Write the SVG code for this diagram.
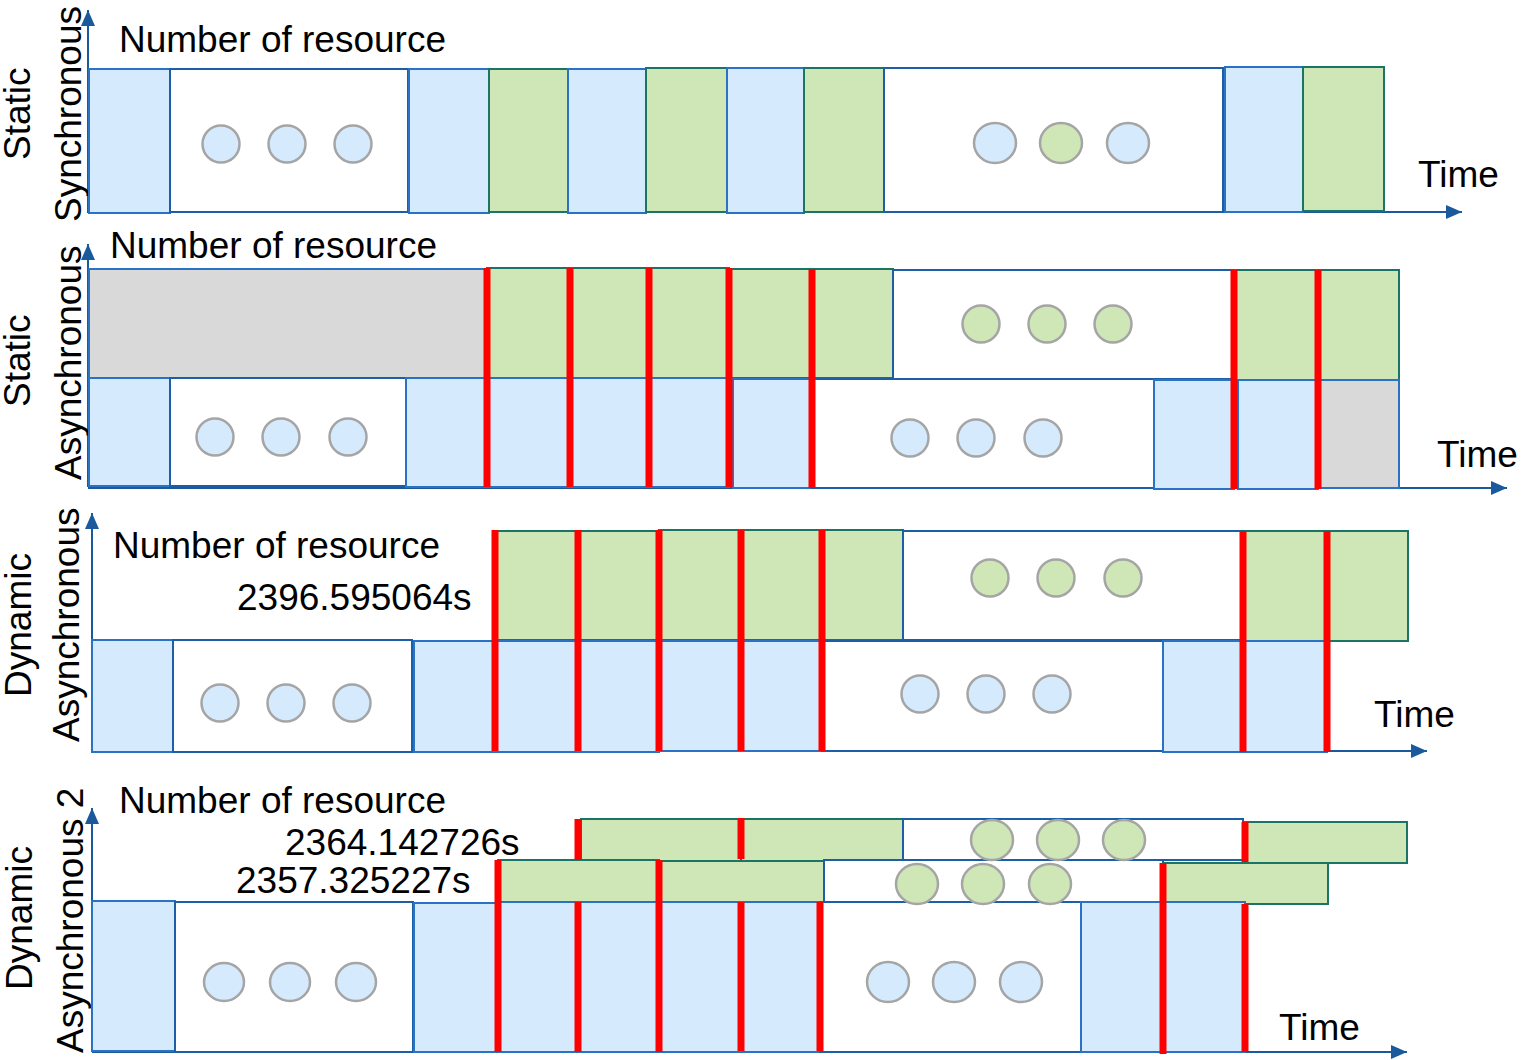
<svg xmlns="http://www.w3.org/2000/svg" width="1524" height="1060" viewBox="0 0 1524 1060">
<style>
text{font-family:"Liberation Sans",Arial,sans-serif;font-size:37px;fill:#000}
.b{fill:#d5eafc;stroke:#2a73c4;stroke-width:2}
.g{fill:#cfe7b6;stroke:#1b7565;stroke-width:2}
.w{fill:#fff;stroke:#1d5fa6;stroke-width:2}
.gr{fill:#d9d9d9;stroke:#2a73c4;stroke-width:2}
.cb{fill:#d5eafc;stroke:#a5a5a5;stroke-width:2.5}
.cg{fill:#cfe7b6;stroke:#a5a5a5;stroke-width:2.5}
.r{stroke:#ff0000;stroke-width:7}
.ax{stroke:#1a5a9c;stroke-width:2;fill:none;marker-end:url(#arr)}
</style>
<defs>
<marker id="arr" markerUnits="userSpaceOnUse" markerWidth="16" markerHeight="14" refX="16" refY="7" orient="auto">
<path d="M0,0 L16,7 L0,14 z" fill="#1a5a9c"/>
</marker>
</defs>
<rect width="1524" height="1060" fill="#fff"/>
<g id="connectors">
<line class="ax" x1="88" y1="213" x2="88" y2="10"/>
<line class="ax" x1="88" y1="212" x2="1462" y2="212"/>
<line class="ax" x1="88" y1="487" x2="88" y2="244"/>
<line class="ax" x1="88" y1="488" x2="1507" y2="488"/>
<line class="ax" x1="92" y1="752" x2="92" y2="513"/>
<line class="ax" x1="92" y1="751" x2="1427" y2="751"/>
<line class="ax" x1="92" y1="1052" x2="92" y2="808"/>
<line class="ax" x1="92" y1="1052" x2="1407" y2="1052"/>
</g>
<g id="panel1">
<text transform="translate(30,160) rotate(-90)">Static</text>
<text transform="translate(81,222) rotate(-90)">Synchronous</text>
<text x="119" y="52">Number of resource</text>
<text x="1418" y="187">Time</text>
<g id="p1-blocks">
<rect class="b" x="89" y="69" width="81" height="144"/>
<rect class="w" x="170" y="69" width="238" height="143"/>
<rect class="b" x="409" y="69" width="80" height="144"/>
<rect class="g" x="489" y="69" width="79" height="143"/>
<rect class="b" x="568" y="69" width="78" height="144"/>
<rect class="g" x="646" y="68" width="81" height="144"/>
<rect class="b" x="727" y="68" width="77" height="145"/>
<rect class="g" x="804" y="68" width="80" height="144"/>
<rect class="w" x="884" y="68" width="339" height="144"/>
<rect class="b" x="1225" y="67" width="78" height="145"/>
<rect class="g" x="1303" y="67" width="81" height="144"/>
</g>
<g id="p1-dots">
<circle class="cb" cx="221" cy="144" r="18.5"/>
<circle class="cb" cx="287" cy="144" r="18.5"/>
<circle class="cb" cx="353" cy="144" r="18.5"/>
<ellipse class="cb" cx="995" cy="143" rx="21" ry="20"/>
<ellipse class="cg" cx="1061" cy="143" rx="21" ry="20"/>
<ellipse class="cb" cx="1128" cy="143" rx="21" ry="20"/>
</g>
</g>
<g id="panel2">
<text transform="translate(30,407) rotate(-90)">Static</text>
<text transform="translate(81,480) rotate(-90)">Asynchronous</text>
<text x="110" y="258">Number of resource</text>
<text x="1437" y="467">Time</text>
<g id="p2-blocks">
<rect class="gr" x="89" y="269" width="398" height="109"/>
<rect class="g" x="487" y="268" width="83" height="110"/>
<rect class="g" x="570" y="268" width="79" height="110"/>
<rect class="g" x="649" y="268" width="80" height="110"/>
<rect class="g" x="729" y="269" width="83" height="109"/>
<rect class="g" x="812" y="269" width="81" height="109"/>
<rect class="w" x="893" y="270" width="341" height="109"/>
<rect class="g" x="1234" y="270" width="84" height="110"/>
<rect class="g" x="1318" y="270" width="81" height="110"/>
<rect class="b" x="89" y="378" width="81" height="108"/>
<rect class="w" x="170" y="378" width="236" height="108"/>
<rect class="b" x="406" y="378" width="81" height="109"/>
<rect class="b" x="487" y="378" width="83" height="109"/>
<rect class="b" x="570" y="378" width="79" height="109"/>
<rect class="b" x="649" y="378" width="80" height="109"/>
<rect class="b" x="733" y="379" width="79" height="109"/>
<rect class="w" x="812" y="379" width="342" height="109"/>
<rect class="b" x="1154" y="380" width="80" height="109"/>
<rect class="b" x="1238" y="380" width="80" height="109"/>
<rect class="gr" x="1318" y="380" width="81" height="108"/>
</g>
<g id="p2-dots">
<circle class="cg" cx="981" cy="324" r="18.5"/>
<circle class="cg" cx="1047" cy="324" r="18.5"/>
<circle class="cg" cx="1113" cy="324" r="18.5"/>
<circle class="cb" cx="215" cy="437" r="18.5"/>
<circle class="cb" cx="281" cy="437" r="18.5"/>
<circle class="cb" cx="348" cy="437" r="18.5"/>
<circle class="cb" cx="910" cy="438" r="18.5"/>
<circle class="cb" cx="976" cy="438" r="18.5"/>
<circle class="cb" cx="1043" cy="438" r="18.5"/>
</g>
<g id="p2-marks">
<line class="r" x1="487" y1="268" x2="487" y2="487"/>
<line class="r" x1="570" y1="268" x2="570" y2="487"/>
<line class="r" x1="649" y1="268" x2="649" y2="487"/>
<line class="r" x1="729" y1="268" x2="729" y2="487"/>
<line class="r" x1="812" y1="269" x2="812" y2="488"/>
<line class="r" x1="1234" y1="270" x2="1234" y2="489"/>
<line class="r" x1="1318" y1="270" x2="1318" y2="489"/>
</g>
</g>
<g id="panel3">
<text transform="translate(31,697) rotate(-90)">Dynamic</text>
<text transform="translate(79,742) rotate(-90)">Asynchronous</text>
<text x="113" y="558">Number of resource</text>
<text x="237" y="610">2396.595064s</text>
<text x="1374" y="727">Time</text>
<g id="p3-blocks">
<rect class="g" x="495" y="531" width="83" height="109"/>
<rect class="g" x="578" y="531" width="81" height="109"/>
<rect class="g" x="659" y="530" width="82" height="110"/>
<rect class="g" x="741" y="530" width="81" height="110"/>
<rect class="g" x="822" y="530" width="81" height="110"/>
<rect class="w" x="903" y="531" width="340" height="109"/>
<rect class="g" x="1243" y="531" width="84" height="110"/>
<rect class="g" x="1327" y="531" width="81" height="110"/>
<rect class="b" x="92" y="640" width="81" height="112"/>
<rect class="w" x="173" y="640" width="239" height="112"/>
<rect class="b" x="414" y="641" width="81" height="111"/>
<rect class="b" x="495" y="641" width="83" height="111"/>
<rect class="b" x="578" y="641" width="81" height="111"/>
<rect class="b" x="659" y="641" width="82" height="110"/>
<rect class="b" x="741" y="641" width="81" height="110"/>
<rect class="w" x="822" y="641" width="341" height="110"/>
<rect class="b" x="1163" y="641" width="80" height="111"/>
<rect class="b" x="1243" y="641" width="84" height="111"/>
</g>
<g id="p3-dots">
<circle class="cg" cx="990" cy="578" r="18.5"/>
<circle class="cg" cx="1056" cy="578" r="18.5"/>
<circle class="cg" cx="1123" cy="578" r="18.5"/>
<circle class="cb" cx="220" cy="703" r="18.5"/>
<circle class="cb" cx="286" cy="703" r="18.5"/>
<circle class="cb" cx="352" cy="703" r="18.5"/>
<circle class="cb" cx="920" cy="694" r="18.5"/>
<circle class="cb" cx="986" cy="694" r="18.5"/>
<circle class="cb" cx="1052" cy="694" r="18.5"/>
</g>
<g id="p3-marks">
<line class="r" x1="495" y1="530" x2="495" y2="751"/>
<line class="r" x1="578" y1="530" x2="578" y2="751"/>
<line class="r" x1="659" y1="530" x2="659" y2="751"/>
<line class="r" x1="741" y1="530" x2="741" y2="751"/>
<line class="r" x1="822" y1="530" x2="822" y2="751"/>
<line class="r" x1="1243" y1="531" x2="1243" y2="752"/>
<line class="r" x1="1327" y1="531" x2="1327" y2="752"/>
</g>
</g>
<g id="panel4">
<text transform="translate(32,990) rotate(-90)">Dynamic</text>
<text transform="translate(83,1053) rotate(-90)">Asynchronous 2</text>
<text x="119" y="813">Number of resource</text>
<text x="285" y="855">2364.142726s</text>
<text x="236" y="893">2357.325227s</text>
<text x="1279" y="1040">Time</text>
<g id="p4-blocks">
<rect class="g" x="581" y="819" width="160" height="42"/>
<rect class="g" x="741" y="819" width="162" height="42"/>
<rect class="w" x="903" y="819" width="340" height="41"/>
<rect class="g" x="1245" y="822" width="162" height="41"/>
<rect class="g" x="498" y="860" width="161" height="42"/>
<rect class="g" x="659" y="861" width="165" height="41"/>
<rect class="w" x="824" y="860" width="339" height="42"/>
<rect class="g" x="1163" y="863" width="165" height="41"/>
<rect class="b" x="92" y="901" width="83" height="150"/>
<rect class="w" x="175" y="902" width="238" height="150"/>
<rect class="b" x="414" y="903" width="84" height="149"/>
<rect class="b" x="498" y="902" width="80" height="150"/>
<rect class="b" x="578" y="902" width="81" height="150"/>
<rect class="b" x="659" y="902" width="82" height="150"/>
<rect class="b" x="741" y="902" width="79" height="150"/>
<rect class="w" x="820" y="902" width="261" height="150"/>
<rect class="b" x="1081" y="902" width="82" height="150"/>
<rect class="b" x="1163" y="902" width="82" height="150"/>
</g>
<g id="p4-dots">
<ellipse class="cg" cx="992" cy="840" rx="21" ry="20"/>
<ellipse class="cg" cx="1058" cy="840" rx="21" ry="20"/>
<ellipse class="cg" cx="1124" cy="840" rx="21" ry="20"/>
<ellipse class="cg" cx="917" cy="884" rx="21" ry="20"/>
<ellipse class="cg" cx="983" cy="884" rx="21" ry="20"/>
<ellipse class="cg" cx="1050" cy="884" rx="21" ry="20"/>
<ellipse class="cb" cx="224" cy="982" rx="20" ry="19"/>
<ellipse class="cb" cx="290" cy="982" rx="20" ry="19"/>
<ellipse class="cb" cx="356" cy="982" rx="20" ry="19"/>
<ellipse class="cb" cx="888" cy="982" rx="21" ry="20"/>
<ellipse class="cb" cx="954" cy="982" rx="21" ry="20"/>
<ellipse class="cb" cx="1021" cy="982" rx="21" ry="20"/>
</g>
<g id="p4-marks">
<line class="r" x1="498" y1="860" x2="498" y2="1052"/>
<line class="r" x1="578" y1="819" x2="578" y2="860"/>
<line class="r" x1="578" y1="902" x2="578" y2="1052"/>
<line class="r" x1="659" y1="860" x2="659" y2="1052"/>
<line class="r" x1="741" y1="818" x2="741" y2="859"/>
<line class="r" x1="741" y1="902" x2="741" y2="1051"/>
<line class="r" x1="820" y1="902" x2="820" y2="1051"/>
<line class="r" x1="1163" y1="863" x2="1163" y2="1054"/>
<line class="r" x1="1245" y1="822" x2="1245" y2="862"/>
<line class="r" x1="1245" y1="904" x2="1245" y2="1052"/>
</g>
</g>
</svg>
